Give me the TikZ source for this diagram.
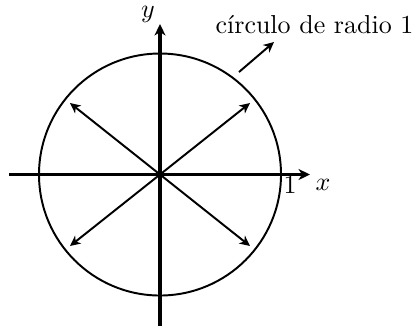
\documentclass[tikz,border=0pt]{standalone}
\usepackage{fontspec}
\usetikzlibrary{arrows.meta}
\begin{document}
\begin{tikzpicture}[x=0.385pt,y=-0.385pt,
  axis/.style={line width=1.2pt,-{Stealth[length=4.4pt,width=4.2pt,inset=1.3pt]}},
  ray/.style={line width=0.75pt,-{Stealth[length=4pt,width=3.8pt,inset=1.2pt]}},
  lbl/.style={inner sep=0pt}]
\useasboundingbox (0,0) rectangle (417,328);
\coordinate (O) at (160,174.5);
\coordinate (xs) at (9,174.5);
\coordinate (xe) at (310,174.5);
\coordinate (ys) at (160,326);
\coordinate (ye) at (160,24);
\draw[line width=0.75pt] (O) circle[radius=121];
\draw[axis] (xs) -- (xe);
\draw[axis] (ys) -- (ye);
\coordinate (ne) at (250,103);
\coordinate (nw) at (70,103);
\coordinate (se) at (250,246);
\coordinate (sw) at (70,246);
\draw[ray] (O) -- (ne);
\draw[ray] (O) -- (nw);
\draw[ray] (O) -- (se);
\draw[ray] (O) -- (sw);
\node[lbl] (ylab) at (148,14) {$y$};
\node[lbl] (xlab) at (323,185) {$x$};
\node[lbl] (one) at (290,185) {1};
\node[lbl,anchor=base] (circ) at (314.5,33) {círculo de radio 1};
\coordinate (pa) at (239,72);
\coordinate (pb) at (274,42);
\draw[ray] (pa) -- (pb);
\end{tikzpicture}
\end{document}
